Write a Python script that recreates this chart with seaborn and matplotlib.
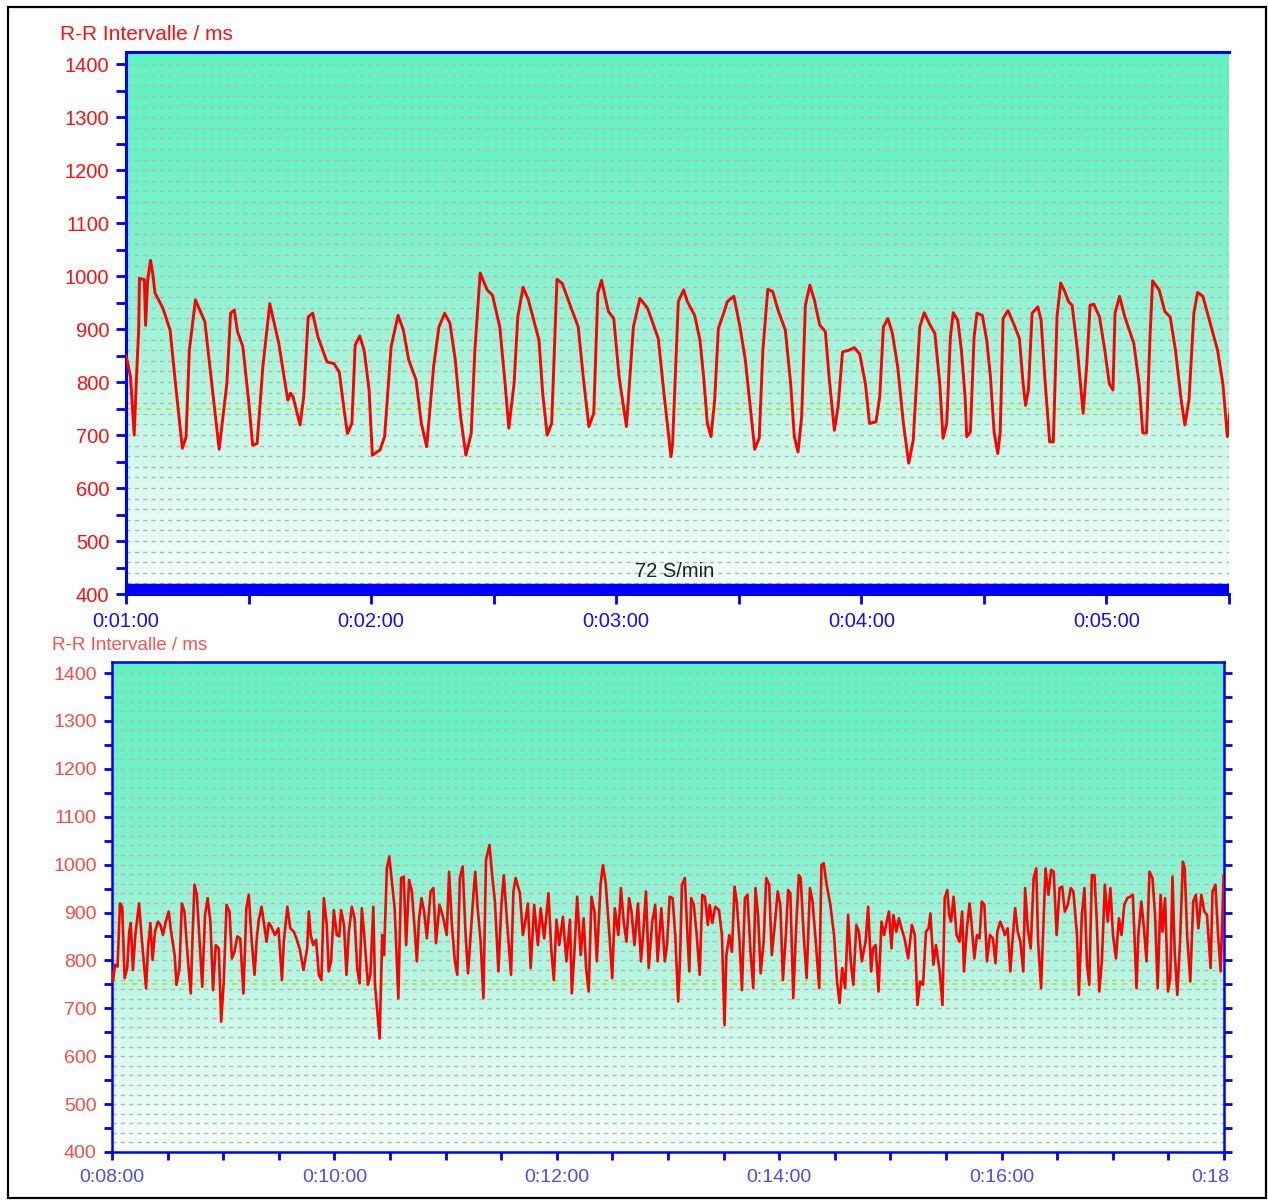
import numpy as np
import matplotlib
matplotlib.use('Agg')
import matplotlib.pyplot as plt
from matplotlib.colors import LinearSegmentedColormap
from matplotlib.patches import Rectangle
from matplotlib.transforms import Bbox, TransformedBbox
import seaborn as sns

# R-R intervals, time in seconds, rr in ms
top_t = [60.0, 61.1, 62.0, 62.5, 63.1, 63.3, 64.5, 64.8, 65.3, 66.0,
         66.6, 67.1, 69.0, 70.8, 72.1, 73.8, 74.7, 75.5, 77.0, 79.3,
         80.8, 82.8, 84.7, 85.6, 86.5, 87.3, 88.6, 90.0, 91.0, 92.1,
         93.5, 95.2, 97.4, 99.6, 100.3, 100.9, 102.6, 103.5, 104.6, 105.7,
         107.0, 109.2, 110.9, 112.2, 113.5, 114.2, 115.3, 116.1, 117.2, 118.3,
         119.5, 120.3, 122.2, 123.3, 124.9, 126.6, 127.9, 129.2, 131.0, 132.3,
         133.6, 135.3, 136.6, 138.0, 139.3, 140.6, 141.9, 143.2, 144.5, 145.4,
         146.7, 148.4, 149.7, 151.5, 152.8, 153.7, 155.0, 155.9, 157.2, 158.5,
         161.1, 162.0, 163.1, 164.2, 165.5, 166.8, 168.1, 170.7, 172.0, 173.3,
         174.5, 175.5, 176.4, 178.1, 179.4, 180.7, 182.5, 184.2, 185.8, 187.7,
         190.3, 191.6, 193.4,
         193.8, 194.3, 195.2, 196.5, 197.4, 199.2, 200.5, 201.4, 202.3, 203.2,
         204.1, 205.0, 206.3, 207.2, 208.8, 210.3, 211.6, 212.9, 213.9, 215.0,
         215.9, 217.1, 218.3, 219.6, 221.4, 222.7, 223.6, 224.5, 225.4, 226.3,
         227.4, 228.5, 229.8, 231.2, 232.1, 233.4, 234.3, 235.4, 236.9, 238.3,
         239.6, 241.0, 242.0, 243.6, 244.5, 245.4, 246.5, 247.6, 248.9, 250.3,
         251.6, 252.7, 254.3, 255.4, 256.8, 258.0, 259.2, 260.0, 260.9, 261.8,
         262.5, 263.6, 264.5, 265.4, 265.8, 266.7, 267.6, 268.3, 269.6, 270.7,
         271.6, 272.5, 273.4, 274.0, 274.7, 275.9, 277.4, 278.7, 279.6, 280.2,
         280.9, 281.8, 283.2, 284.0, 284.9, 286.1, 287.0, 287.9, 288.8, 289.8,
         290.7, 291.6, 292.9, 294.3, 295.2, 296.0, 296.9, 298.3, 299.6, 300.7,
         301.6, 302.1, 303.2, 304.5, 306.7, 308.0, 308.9, 309.8, 310.7, 311.3,
         312.9, 314.3, 315.6, 316.9, 318.3, 319.2, 320.2, 321.4, 322.3, 323.6,
         325.4, 327.2, 328.5, 329.6, 330.7]
top_rr = [851, 810, 700, 798, 898, 996, 993, 907, 992, 1030,
          1002, 968, 940, 898, 798, 675, 696, 860, 955, 914,
          810, 673, 798, 930, 936, 895, 867, 766, 681, 684,
          829, 948, 873, 766, 779, 772, 719, 772, 923, 930,
          885, 838, 835, 819, 741, 703, 722, 870, 887, 860,
          785, 662, 672, 697, 867, 926, 898, 842, 804, 722,
          678, 829, 904, 930, 911, 842, 735, 662, 703, 860,
          1006, 974, 964, 904, 797, 713, 797, 923, 979, 955,
          879, 779, 700, 722, 994, 986, 958, 904, 804, 716,
          741, 968, 992, 933, 920, 810, 716, 904, 958, 939,
          882, 785, 659,
          684, 779, 952, 974, 952, 926, 879, 810, 722, 697,
          766, 901, 930, 952, 962, 904, 842, 747, 673, 694,
          860, 975, 971, 936, 898, 797, 697, 668, 735, 945,
          983, 955, 908, 895, 810, 709, 753, 857, 860, 865,
          853, 797, 722, 725, 772, 904, 920, 892, 829, 722,
          647, 690, 904, 931, 908, 892, 797, 694, 722, 885,
          931, 917, 860, 772, 697, 706, 885, 930, 926, 879,
          810, 706, 665, 706, 920, 935, 908, 882, 797, 756,
          785, 930, 942, 917, 810, 687, 687, 923, 987, 971,
          952, 945, 860, 741, 835, 945, 947, 923, 860, 797,
          785, 930, 962, 923, 873, 797, 704, 704, 892, 991,
          974, 933, 923, 860, 766, 719, 766, 930, 969, 962,
          911, 860, 797, 697, 779]

bot_t = [480.0, 480.5, 481.6, 483.0, 484.3, 485.5, 486.8, 488.2, 489.3, 490.1,
         491.3, 492.6, 494.6, 495.9, 497.1, 498.4, 499.4, 500.7, 501.9, 503.2,
         504.8, 506.1, 507.5, 509.0, 510.6, 511.9, 513.8, 514.8, 516.4, 517.7,
         519.1, 521.0, 522.5, 523.5, 524.5, 525.8, 527.4, 528.7, 530.2, 531.6,
         533.1, 534.5, 536.0, 537.6, 538.9, 540.3, 541.8, 543.4, 544.7, 546.1,
         547.6, 549.2, 550.9, 552.5, 553.8, 555.4, 556.9, 558.2, 559.2, 560.7,
         562.1, 563.4, 564.6, 565.9, 567.9, 569.8, 571.7, 572.7, 574.6, 576.2,
         578.1, 579.5, 581.4, 583.3, 585.3, 586.2, 587.2, 588.6, 590.1, 591.6,
         593.0, 594.3, 595.9, 596.9, 598.2, 599.7, 601.3, 602.6, 603.6, 605.2,
         606.5, 607.8, 609.4, 610.9, 612.3, 613.6, 614.8, 616.1, 618.1, 619.4,
         621.0, 621.9, 623.3, 624.4, 625.8, 626.8, 628.3, 629.6, 631.0, 632.5,
         634.5, 636.0, 637.4, 638.7, 640.3, 641.8, 643.2, 644.5, 645.7, 647.0,
         648.4, 649.9, 651.9, 653.4, 654.8, 656.7, 658.6, 660.6, 661.9, 663.4,
         665.0, 666.3, 667.7, 669.2, 670.8, 672.1, 673.5, 675.0, 676.0, 677.3,
         678.9, 680.4, 681.8, 683.7, 685.1, 686.6, 688.5, 690.1, 691.4, 693.4,
         695.3, 696.6, 697.8, 700.1, 701.7, 703.0, 704.4, 705.9, 707.8, 709.8,
         711.3, 713.2, 715.5, 717.1, 718.4, 719.8, 721.3, 723.3, 725.2, 727.1,
         728.1, 729.5, 731.0, 732.9, 734.5, 735.8, 737.2, 738.7, 740.3, 741.6,
         743.6, 744.9, 746.4, 748.4, 749.9, 751.3, 753.2, 754.6, 756.1, 757.6,
         759.0, 760.3, 761.9, 763.8, 765.4, 766.7, 768.1, 769.6, 771.5, 773.1,
         774.4, 776.4, 778.3,
         779.5, 780.9, 782.5, 783.9, 785.5, 786.5, 787.5, 789.1, 790.5, 791.5,
         792.5, 793.9, 795.5, 797.1, 798.5, 799.9, 801.5, 802.5, 803.9, 805.5,
         807.5, 809.1, 810.5, 811.5, 813.1, 814.5, 815.9, 817.1, 818.5, 819.9,
         821.5, 822.9, 824.5, 826.0, 827.2, 828.6, 830.0, 831.6, 833.0, 834.6,
         836.0, 837.6, 839.2, 840.6, 842.0, 843.6, 844.8, 846.0, 847.6, 849.2,
         850.6, 851.6, 853.2, 854.8, 856.6, 858.0, 860.0, 861.6, 862.8, 864.0,
         865.6, 867.6, 869.6, 871.2, 872.6, 874.0, 875.6, 877.2, 878.6, 880.0,
         881.6, 883.0, 884.6, 886.6, 888.0, 889.6, 890.6, 892.0, 893.6, 895.2,
         896.6, 898.0, 899.2, 900.6, 901.6, 903.2, 904.6, 906.0, 907.6, 909.6,
         911.6, 913.2, 914.6, 916.0, 917.6, 919.2, 920.6, 921.6, 923.2, 924.6,
         926.6, 928.1, 929.3, 930.7, 931.7, 932.7, 934.1, 935.7, 937.3, 938.7,
         939.7, 941.3, 942.7, 943.7, 945.3, 946.7, 948.1, 949.3, 950.7, 952.1,
         953.7, 955.3, 956.7, 957.7, 959.3, 960.7, 961.7, 963.3, 964.7, 966.1,
         967.3, 968.7, 970.1, 971.7, 972.7, 974.1, 975.7, 977.3, 978.7, 979.7,
         981.3, 982.7, 983.7, 985.3, 986.7, 988.1, 989.7, 991.3, 992.7, 994.1,
         995.7, 997.3, 998.7, 1000.7, 1001.7, 1003.3, 1004.7, 1006.1, 1007.3, 1008.7,
         1010.1, 1011.3, 1012.7, 1014.1, 1015.7, 1017.3, 1018.7, 1020.1, 1021.7, 1023.3,
         1024.7, 1026.2, 1027.8, 1029.4, 1030.8, 1032.8, 1033.8, 1035.4, 1036.8, 1038.2,
         1039.8, 1041.4, 1042.8, 1044.2, 1045.8, 1046.8, 1048.2, 1049.8, 1051.0, 1052.2,
         1053.4, 1054.8, 1056.2, 1057.8, 1058.8, 1060.2, 1061.8, 1063.4, 1064.8, 1066.2,
         1067.8, 1069.4, 1070.8, 1072.8, 1073.8, 1075.4, 1076.8, 1078.2, 1079.8, 1081.0]
bot_rr = [775, 756, 791, 787, 919, 912, 763, 784, 860, 878,
          780, 853, 919, 853, 798, 742, 825, 878, 801, 860,
          881, 874, 853, 881, 902, 860, 811, 749, 784, 919,
          902, 798, 731, 853, 958, 937, 832, 745, 895, 930,
          881, 738, 832, 825, 672, 756, 916, 902, 804, 818,
          850, 846, 731, 909, 937, 839, 770, 850, 885, 912,
          874, 839, 878, 871, 853, 867, 759, 839, 912, 867,
          860, 846, 822, 780, 825, 902, 853, 832, 843, 770,
          759, 930, 874, 777, 798, 905, 853, 850, 905, 874,
          770, 860, 912, 888, 784, 752, 909, 853, 749, 770,
          912, 749, 686, 637, 853, 811, 992, 1017, 965, 909,
          721, 972, 975, 832, 968, 944, 871, 798, 888, 930,
          902, 846, 944, 951, 836, 916, 891, 853, 985, 874,
          798, 770, 972, 996, 853, 773, 853, 937, 985, 909,
          839, 721, 1010, 1041, 978, 923, 777, 916, 978, 867,
          770, 944, 972, 940, 853, 881, 919, 784, 916, 832,
          909, 846, 940, 818, 759, 885, 832, 891, 798, 885,
          731, 818, 933, 811, 888, 784, 735, 933, 902, 798,
          958, 999, 961, 853, 763, 909, 853, 951, 881, 839,
          930, 902, 832, 919, 798, 860, 944, 784, 881, 916,
          798, 909, 798,
          832, 933, 930, 853, 714, 804, 958, 972, 853, 777,
          930, 916, 853, 770, 937, 933, 874, 916, 878, 912,
          905, 853, 665, 811, 853, 818, 954, 923, 846, 738,
          930, 937, 818, 742, 951, 895, 773, 839, 972, 958,
          811, 874, 944, 916, 759, 853, 947, 940, 721, 874,
          978, 972, 853, 763, 951, 923, 825, 742, 999, 1003,
          958, 916, 853, 756, 711, 784, 742, 895, 798, 749,
          874, 860, 798, 839, 912, 777, 825, 832, 735, 881,
          853, 881, 902, 825, 895, 860, 888, 867, 846, 804,
          874, 853, 707, 756, 749, 860, 867, 898, 791, 832,
          777, 707, 930, 947, 895, 881, 933, 853, 839, 902,
          777, 867, 919, 881, 804, 853, 846, 923, 916, 798,
          853, 846, 794, 860, 881, 867, 853, 867, 777, 853,
          909, 860, 839, 777, 951, 867, 825, 972, 992, 839,
          742, 888, 992, 937, 989, 985, 853, 951, 954, 902,
          916, 951, 944, 853, 728, 895, 951, 791, 749, 978,
          978, 888, 735, 798, 958, 881, 951, 853, 804, 888,
          853, 916, 930, 933, 937, 742, 853, 923, 867, 798,
          985, 972, 895, 742, 937, 860, 930, 735, 763, 975,
          818, 728, 832, 1006, 992, 846, 756, 923, 937, 867,
          937, 902, 895, 784, 944, 958, 853, 777, 978, 972]

top_xticks = [60, 120, 180, 240, 300]
top_xlabels = ['0:01:00', '0:02:00', '0:03:00', '0:04:00', '0:05:00']
bot_xticks = [480, 600, 720, 840, 960, 1080]
bot_xlabels = ['0:08:00', '0:10:00', '0:12:00', '0:14:00', '0:16:00', '0:18:00']
yticks = [400, 500, 600, 700, 800, 900, 1000, 1100, 1200, 1300, 1400]
ylabel = 'R-R Intervalle / ms'
rate_text = '72 S/min'
threshold = 750

sns.set_style('white')
plt.rcParams['font.family'] = ['Liberation Sans', 'DejaVu Sans']

W, H = 1268, 1203
fig = plt.figure(figsize=(W / 100, H / 100), dpi=100)
ax1 = fig.add_axes([126 / W, 1 - 594 / H, 1103 / W, 542 / H])
ax2 = fig.add_axes([112 / W, 1 - 1152 / H, 1112 / W, 490 / H])

bg = LinearSegmentedColormap.from_list('bg', [(0.0, '#f4fffb'), (0.2, '#dafbef'),
                                              (0.4, '#aef6de'), (0.6, '#86f3cf'),
                                              (0.8, '#6cf2c5'), (1.0, '#60f3bf')])
y0, y1 = 400, 1423


def setup(ax, x0, x1, lw, lblsize, ycol, xcol):
    ax.imshow(np.linspace(0, 1, 256).reshape(-1, 1), cmap=bg, origin='lower',
              extent=[x0, x1, y0, y1], aspect='auto', zorder=0)
    ax.hlines(np.arange(420, 1401, 20), x0, x1, colors='#c0b0b6',
              linestyles=(0, (3, 3)), linewidth=1, zorder=1)
    ax.axhline(threshold, color='#a8e830', linestyle=(0, (3, 3)), linewidth=1.2, zorder=1)
    ax.set_xlim(x0, x1)
    ax.set_ylim(y0, y1)
    ax.set_yticks(yticks)
    ax.set_yticks(np.arange(450, 1401, 100), minor=True)
    ax.tick_params(axis='y', which='both', direction='out', length=7, width=2,
                   color='#0000ff', labelcolor=ycol, labelsize=lblsize, pad=5, left=True)
    ax.tick_params(axis='x', which='both', direction='out', length=7, width=2,
                   color='#0000ff', labelcolor=xcol, labelsize=lblsize, pad=6, bottom=True)
    for s in ax.spines.values():
        s.set_color('#0000ff')
        s.set_linewidth(lw)
    ax.set_xlabel('')
    ax.set_ylabel('')


# top panel
setup(ax1, 60, 330, 2.2, 14.5, '#ff1010', '#1010ff')
sns.lineplot(x=top_t, y=top_rr, ax=ax1, color='#ff0000', linewidth=2.1,
             estimator=None, sort=False, zorder=3)
ax1.axhspan(400, 419, color='#0000ff', zorder=4)
ax1.spines['right'].set_visible(False)
ax1.set_xticks(top_xticks)
ax1.set_xticklabels(top_xlabels)
ax1.set_xticks(np.arange(90, 331, 60), minor=True)
ax1.text(194.4, 443, rate_text, ha='center', va='center', fontsize=14.5,
         color='#202020', zorder=5)

# bottom panel
setup(ax2, 480, 1080, 1.8, 14, '#ff4848', '#4a4aff')
sns.lineplot(x=bot_t, y=bot_rr, ax=ax2, color='#ff0000', linewidth=1.9,
             estimator=None, sort=False, zorder=3)
ax2.set_xticks(bot_xticks)
ax2.set_xticklabels(bot_xlabels)
ax2.set_xticks([t for t in range(510, 1080, 30) if t not in bot_xticks], minor=True)
ax2.tick_params(axis='x', which='both', length=6)
ax2.tick_params(axis='y', which='both', right=True, length=6)
clip = TransformedBbox(Bbox([[0, 0], [1231 / W, 1]]), fig.transFigure)
for lbl in ax2.get_xticklabels():
    lbl.set_clip_box(clip)
    lbl.set_clip_on(True)

fig.text(60 / W, 1 - 34 / H, ylabel, color='#ff1010', fontsize=15, ha='left', va='center')
fig.text(52 / W, 1 - 645 / H, ylabel, color='#ff5050', fontsize=13.5, ha='left', va='center')

fig.add_artist(Rectangle((8 / W, 5 / H), 1258 / W, 1191 / H, transform=fig.transFigure,
                         fill=False, edgecolor='black', linewidth=1.6))

fig.savefig('out.png', dpi=100)
